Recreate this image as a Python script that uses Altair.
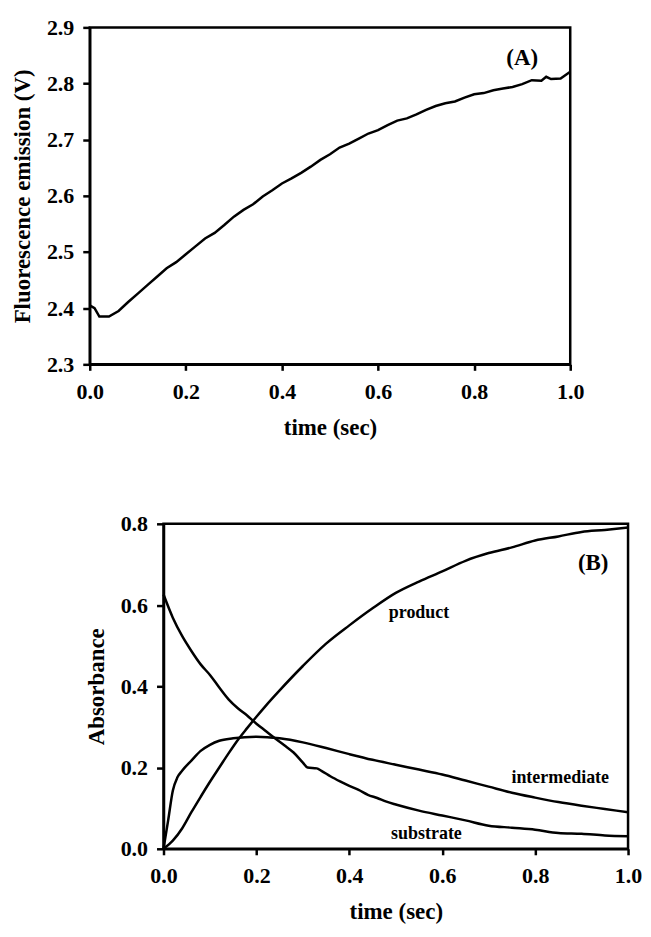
import altair as alt
import pandas as pd

FONT = "Liberation Serif"

# ---------------- Panel A: fluorescence ----------------
t_a = [0.00, 0.01, 0.02, 0.04, 0.06, 0.08, 0.10, 0.12, 0.14, 0.16, 0.18, 0.20,
       0.22, 0.24, 0.26, 0.28, 0.30, 0.32, 0.34, 0.36, 0.38, 0.40, 0.42, 0.44,
       0.46, 0.48, 0.50, 0.52, 0.54, 0.56, 0.58, 0.60, 0.62, 0.64, 0.66, 0.68,
       0.70, 0.72, 0.74, 0.76, 0.78, 0.80, 0.82, 0.84, 0.86, 0.88, 0.90, 0.92,
       0.94, 0.95, 0.96, 0.98, 1.00]
fluor = [2.405, 2.400, 2.385, 2.385, 2.395, 2.411, 2.426, 2.441, 2.456, 2.471, 2.482, 2.496,
         2.510, 2.524, 2.534, 2.548, 2.563, 2.575, 2.585, 2.599, 2.610, 2.622, 2.631, 2.641,
         2.652, 2.664, 2.674, 2.686, 2.693, 2.702, 2.711, 2.717, 2.726, 2.734, 2.738, 2.745,
         2.753, 2.760, 2.765, 2.768, 2.775, 2.781, 2.783, 2.788, 2.791, 2.794, 2.799, 2.806,
         2.805, 2.812, 2.808, 2.809, 2.821]

# ---------------- Panel B: absorbance ----------------
t_sub = [0.00, 0.02, 0.04, 0.06, 0.08, 0.10, 0.12, 0.14, 0.16, 0.18, 0.20, 0.22,
         0.24, 0.26, 0.28, 0.30, 0.31, 0.33, 0.34, 0.36, 0.38, 0.40, 0.42, 0.44,
         0.46, 0.48, 0.50, 0.55, 0.60, 0.65, 0.70, 0.75, 0.80, 0.85, 0.90, 0.95, 1.00]
substrate = [0.626, 0.569, 0.524, 0.487, 0.454, 0.428, 0.397, 0.368, 0.346, 0.328, 0.308, 0.290,
             0.272, 0.255, 0.237, 0.212, 0.200, 0.198, 0.192, 0.178, 0.166, 0.155, 0.145, 0.133,
             0.125, 0.116, 0.109, 0.094, 0.082, 0.070, 0.057, 0.052, 0.047, 0.039, 0.037, 0.033, 0.031]

t_int = [0.00, 0.01, 0.02, 0.03, 0.04, 0.06, 0.08, 0.10, 0.12, 0.15, 0.20, 0.25,
         0.30, 0.35, 0.40, 0.45, 0.50, 0.55, 0.60, 0.65, 0.70, 0.75, 0.80, 0.85,
         0.90, 0.95, 1.00]
intermediate = [0.000, 0.070, 0.143, 0.176, 0.192, 0.217, 0.241, 0.256, 0.266, 0.272, 0.276, 0.272,
                0.262, 0.248, 0.233, 0.219, 0.207, 0.195, 0.183, 0.168, 0.153, 0.138, 0.126, 0.115,
                0.106, 0.098, 0.090]

t_prod = [0.00, 0.02, 0.04, 0.06, 0.08, 0.10, 0.12, 0.14, 0.16, 0.18, 0.20, 0.22,
          0.25, 0.30, 0.35, 0.40, 0.45, 0.50, 0.55, 0.60, 0.65, 0.70, 0.75, 0.80,
          0.85, 0.90, 0.95, 1.00]
product = [0.000, 0.020, 0.050, 0.090, 0.128, 0.165, 0.200, 0.235, 0.268, 0.297, 0.325, 0.352,
           0.390, 0.450, 0.505, 0.550, 0.592, 0.630, 0.658, 0.683, 0.709, 0.728, 0.742, 0.759,
           0.769, 0.780, 0.785, 0.791]

# annotations
labels_b = ["product", "intermediate", "substrate"]
labels_b_t = [0.55, 0.854, 0.566]
labels_b_v = [0.581, 0.174, 0.037]
panel_a_label, panel_a_t, panel_a_v = "(A)", 0.90, 2.845
panel_b_label, panel_b_t, panel_b_v = "(B)", 0.925, 0.703

x_ticks = [0.0, 0.2, 0.4, 0.6, 0.8, 1.0]
ya_ticks = [2.3, 2.4, 2.5, 2.6, 2.7, 2.8, 2.9]
yb_ticks = [0.0, 0.2, 0.4, 0.6, 0.8]

df_a = pd.DataFrame({"t": t_a, "v": fluor})
df_b = pd.concat([
    pd.DataFrame({"t": t_sub, "v": substrate, "s": "substrate"}),
    pd.DataFrame({"t": t_int, "v": intermediate, "s": "intermediate"}),
    pd.DataFrame({"t": t_prod, "v": product, "s": "product"}),
])
df_lab_b = pd.DataFrame({"t": labels_b_t, "v": labels_b_v, "label": labels_b})
df_pa = pd.DataFrame({"t": [panel_a_t], "v": [panel_a_v], "label": [panel_a_label]})
df_pb = pd.DataFrame({"t": [panel_b_t], "v": [panel_b_v], "label": [panel_b_label]})

base_style = dict(
    labelFont=FONT, labelFontSize=22, labelFontWeight="bold", labelColor="black",
    titleFont=FONT, titleFontSize=23, titleFontWeight="bold", titleColor="black",
    domainColor="black", domainWidth=2.5, tickColor="black", tickWidth=2.5,
    grid=False, labelFlush=False, labelOverlap=False,
)
x_style = dict(base_style, tickSize=6, labelPadding=11, titlePadding=14)
y_style = dict(base_style, tickSize=7, labelPadding=9, titlePadding=12)


def x_enc():
    return alt.X("t:Q", scale=alt.Scale(domain=[0, 1], nice=False),
                 axis=alt.Axis(values=x_ticks, format=".1f", title="time (sec)", **x_style))


frame = alt.ViewBackground(stroke="black", strokeWidth=2.5)

# Panel A
ya = alt.Y("v:Q", scale=alt.Scale(domain=[2.3, 2.9], nice=False, zero=False),
           axis=alt.Axis(values=ya_ticks, format=".1f", title="Fluorescence emission (V)",
                         **y_style))
line_a = alt.Chart(df_a).mark_line(color="black", strokeWidth=2.5).encode(x=x_enc(), y=ya)
text_a = alt.Chart(df_pa).mark_text(font=FONT, fontSize=23, fontWeight="bold",
                                    color="black").encode(x="t:Q", y="v:Q", text="label:N")
panel_a = alt.layer(line_a, text_a).properties(width=482, height=338, view=frame)

# Panel B
yb = alt.Y("v:Q", scale=alt.Scale(domain=[0, 0.8], nice=False),
           axis=alt.Axis(values=yb_ticks, format=".1f", title="Absorbance", **y_style))
line_b = alt.Chart(df_b).mark_line(color="black", strokeWidth=2.5,
                                   interpolate="monotone").encode(
    x=x_enc(), y=yb, detail="s:N")
text_b = alt.Chart(df_lab_b).mark_text(font=FONT, fontSize=18, fontWeight="bold",
                                       color="black").encode(x="t:Q", y="v:Q", text="label:N")
text_pb = alt.Chart(df_pb).mark_text(font=FONT, fontSize=23, fontWeight="bold",
                                     color="black").encode(x="t:Q", y="v:Q", text="label:N")
panel_b = alt.layer(line_b, text_b, text_pb).properties(width=466, height=326, view=frame)

spacer = alt.Chart(pd.DataFrame({"s": [0]})).mark_point(opacity=0).encode(
    x=alt.X("s:Q", axis=None), y=alt.Y("s:Q", axis=None)
).properties(width=74, height=10, view=alt.ViewBackground(strokeOpacity=0))

row_b = alt.hconcat(spacer, panel_b, spacing=0, bounds="flush")

chart = alt.vconcat(panel_a, row_b, spacing=160, bounds="flush").properties(
    padding={"left": 2, "top": 5, "right": 0, "bottom": 0}
).configure_view(stroke=None).configure_axis(labelFont=FONT, titleFont=FONT)

chart.save("out.html", embed_options={"renderer": "svg", "actions": False})
